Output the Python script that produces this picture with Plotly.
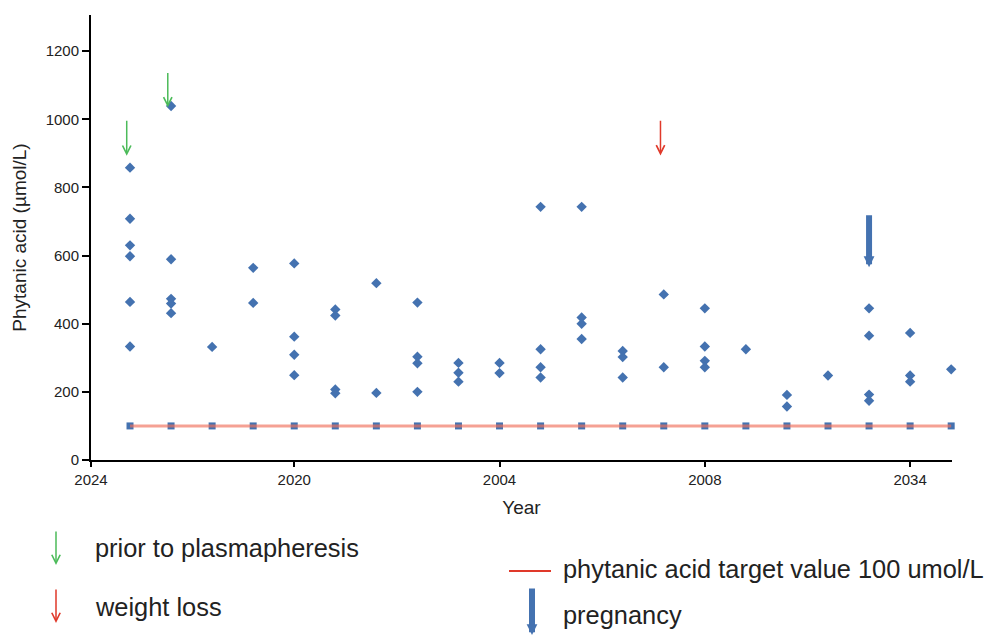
import plotly.graph_objects as go

# ---- data ----
visits = list(range(21))
levels = [
    [858, 708, 630, 598, 464, 333],
    [1039, 589, 473, 459, 431],
    [332],
    [564, 461],
    [577, 362, 309, 249],
    [442, 424, 207, 196],
    [519, 197],
    [462, 303, 284, 200],
    [285, 256, 230],
    [285, 255],
    [743, 325, 272, 242],
    [743, 418, 400, 355],
    [320, 302, 242],
    [486, 272],
    [445, 333, 291, 272],
    [325],
    [191, 157],
    [248],
    [445, 365, 192, 174],
    [373, 248, 230],
    [266],
]
target_value = 100
tick_positions = [-0.95, 4, 9, 14, 19]
tick_labels = ["2024", "2020", "2004", "2008", "2034"]
y_ticks = [0, 200, 400, 600, 800, 1000, 1200]

plasma_visits = [0, 1]
plasma_tops = [1000, 1140]
plasma_tips = [893, 1035]
weight_visits = [13]
weight_tops = [1000]
weight_tips = [894]
preg_visits = [18]
preg_tops = [723]
preg_tips = [566]

# ---- style ----
BLUE = "#4472B0"
GREEN = "#4CBB5A"
RED = "#E0392A"
FONT = "Liberation Sans, Arial, sans-serif"
TXT = "#222222"

xs, ys = [], []
for v, vals in zip(visits, levels):
    for val in vals:
        xs.append(v)
        ys.append(val)

fig = go.Figure()
fig.add_trace(go.Scatter(
    x=visits, y=[target_value] * len(visits), mode="markers",
    marker=dict(symbol="square", size=7, color=BLUE), showlegend=False,
    cliponaxis=False, hoverinfo="skip"))
fig.add_trace(go.Scatter(
    x=visits, y=[target_value] * len(visits), mode="lines",
    line=dict(color="rgba(240,110,90,0.65)", width=3), showlegend=False,
    cliponaxis=False, hoverinfo="skip"))
fig.add_trace(go.Scatter(
    x=xs, y=ys, mode="markers",
    marker=dict(symbol="diamond", size=8, color=BLUE), showlegend=False,
    cliponaxis=False))

ann = []
def data_arrow(v, top, tip, color, width, head, size):
    ann.append(dict(x=v - 0.08, y=tip, ax=v - 0.08, ay=top, xref="x", yref="y",
                    axref="x", ayref="y", text="", showarrow=True,
                    arrowhead=head, arrowsize=size, arrowwidth=width,
                    arrowcolor=color, standoff=0))

for v, t, p in zip(plasma_visits, plasma_tops, plasma_tips):
    data_arrow(v, t, p, GREEN, 1.5, 5, 1.1)
for v, t, p in zip(weight_visits, weight_tops, weight_tips):
    data_arrow(v, t, p, RED, 1.5, 5, 1.1)
for v, t, p in zip(preg_visits, preg_tops, preg_tips):
    ann.append(dict(x=v, y=p, ax=v, ay=t, xref="x", yref="y", axref="x",
                    ayref="y", text="", showarrow=True, arrowhead=2,
                    arrowsize=0.36, arrowwidth=6, arrowcolor=BLUE, standoff=0))

# ---- custom legend (page pixel positions converted to paper coords) ----
L, R, T, B = 91, 33, 15, 176
W, H = 985, 636
PW, PH = W - L - R, H - T - B
def px(x):
    return (x - L) / PW
def py(y):
    return (H - B - y) / PH

ann.append(dict(x=px(56), y=py(565), xref="paper", yref="paper", ax=0, ay=-35,
                text="", showarrow=True, arrowhead=5, arrowsize=1.1,
                arrowwidth=1.5, arrowcolor=GREEN, standoff=0))
ann.append(dict(x=px(56), y=py(623), xref="paper", yref="paper", ax=0, ay=-35,
                text="", showarrow=True, arrowhead=5, arrowsize=1.1,
                arrowwidth=1.5, arrowcolor=RED, standoff=0))
ann.append(dict(x=px(532), y=py(645), xref="paper", yref="paper", ax=0, ay=-58,
                text="", showarrow=True, arrowhead=2, arrowsize=0.36,
                arrowwidth=6, arrowcolor=BLUE, standoff=0))

legend_texts = [
    ("prior to plasmapheresis", 93, 548),
    ("weight loss", 93, 607),
    ("phytanic acid target value 100 umol/L", 561, 569),
    ("pregnancy", 561, 615),
]
for txt, x0, y0 in legend_texts:
    ann.append(dict(x=px(x0), y=py(y0), xref="paper", yref="paper", text=txt,
                    showarrow=False, xanchor="left", yanchor="middle",
                    font=dict(family=FONT, size=25.4, color=TXT)))

fig.add_shape(type="line", xref="paper", yref="paper", x0=px(509), x1=px(551),
              y0=py(571), y1=py(571), line=dict(color=RED, width=2))

fig.update_layout(
    width=W, height=H, margin=dict(l=L, r=R, t=T, b=B),
    paper_bgcolor="white", plot_bgcolor="white",
    font=dict(family=FONT, color=TXT),
    annotations=ann,
    xaxis=dict(range=[-0.95, 20.02], tickvals=tick_positions, ticktext=tick_labels,
               showgrid=False, zeroline=False, showline=True, linecolor="black",
               linewidth=2, ticks="outside", ticklen=5, tickwidth=2,
               tickcolor="black", tickfont=dict(size=15, color=TXT),
               title=dict(text="Year", font=dict(size=19, color=TXT), standoff=14)),
    yaxis=dict(range=[0, 1306], tickvals=y_ticks, showgrid=False, zeroline=False,
               showline=True, linecolor="black", linewidth=2, ticks="outside",
               ticklen=7, tickwidth=2, tickcolor="black",
               tickfont=dict(size=15, color=TXT),
               title=dict(text="Phytanic acid (µmol/L)", font=dict(size=19, color=TXT),
                          standoff=14)),
)

fig.write_html("out.html")
